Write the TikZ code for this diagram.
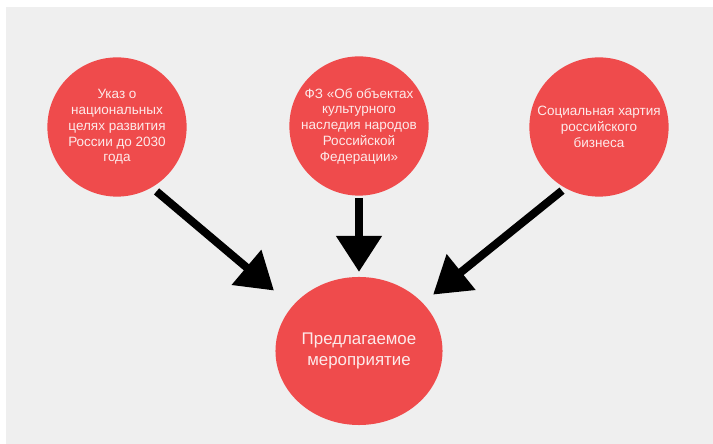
\documentclass[tikz,border=0pt]{standalone}
\usepackage{fontspec}
\setmainfont{Liberation Sans}
\usepackage{tikz}
\usetikzlibrary{shapes.geometric, arrows.meta}

\definecolor{krug}{HTML}{EF4B4C}
\definecolor{fon}{HTML}{EFEFEF}
\definecolor{tekst}{HTML}{FDEAEA}

\tikzset{
  doc/.style={circle, fill=krug, minimum size=3.48cm, inner sep=0pt, align=center,
              text=tekst, font=\fontsize{9.6}{11.2}\selectfont},
  strelka/.style={line width=0.2cm, -{Triangle[length=0.9cm,width=1.1cm]}}
}

\begin{document}
\begin{tikzpicture}[x=0.025cm, y=-0.025cm]
        \useasboundingbox (0,0) rectangle (713,444);
        \fill[fon] (6,7) rectangle (713,444);

        \node[doc] (ukaz) at (117,127) {Указ о\\национальных\\целях развития\\России до 2030\\года};
        \node[doc] (fz) at (359,126) {ФЗ «Об объектах\\культурного\\наследия народов\\Российской\\Федерации»};
        \node[doc] (xartiya) at (599,127) {Социальная хартия\\российского\\бизнеса};

        \node[ellipse, fill=krug, minimum width=4.175cm, minimum height=3.7cm, inner sep=0pt,
              align=center, text=tekst, font=\fontsize{12}{15}\selectfont]
              (mer) at (359,351) {Предлагаемое\\мероприятие};

        \draw[strelka, shorten <=0.15cm, shorten >=0.6cm] (ukaz.300) -- (mer.146);
        \draw[strelka, shorten <=0.05cm, shorten >=0.12cm] (fz.south) -- (mer.north);
        \draw[strelka, shorten <=0.1cm, shorten >=0.33cm] (xartiya.241) -- (mer.37);

\end{tikzpicture}
\end{document}
